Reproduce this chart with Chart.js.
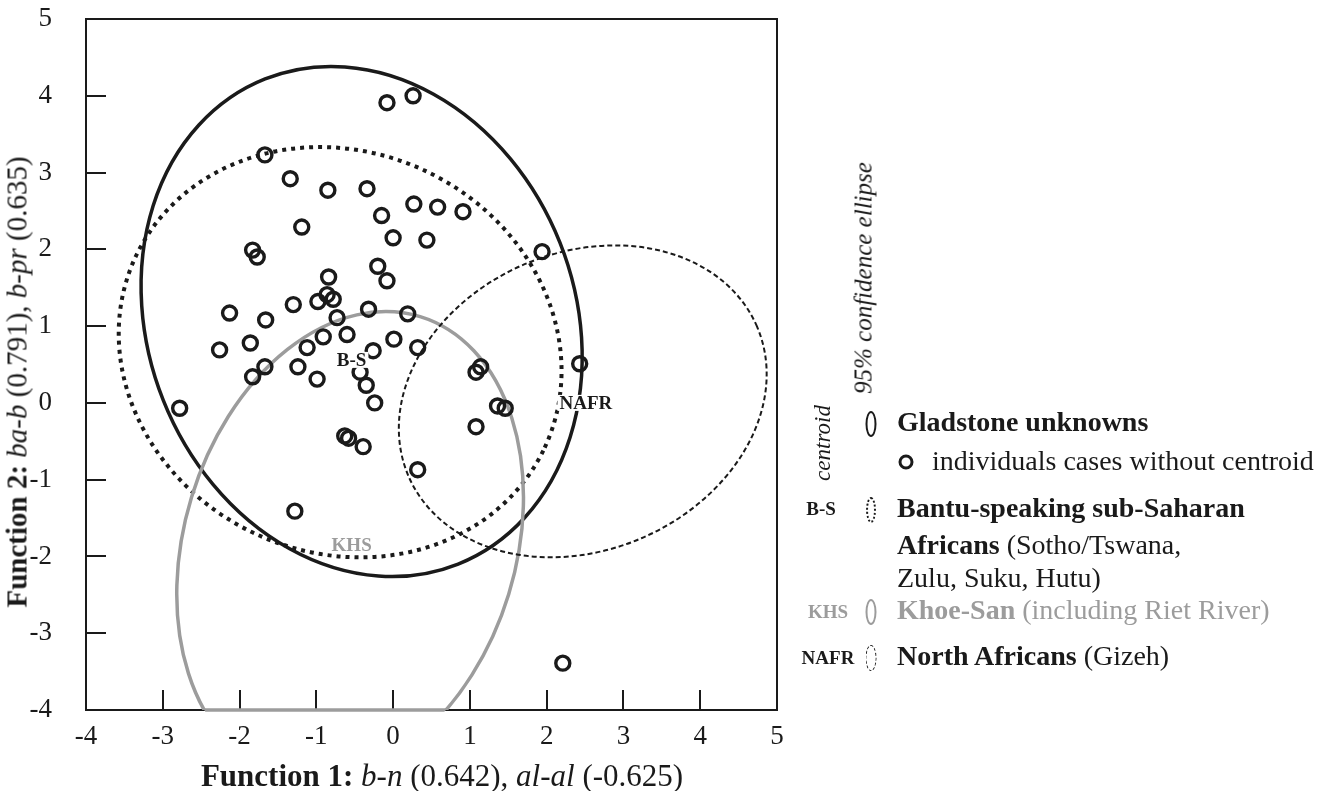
<!DOCTYPE html>
<html>
<head>
<meta charset="utf-8">
<title>Discriminant function plot</title>
<script src="https://cdn.jsdelivr.net/npm/chart.js@4.4.0/dist/chart.umd.min.js"></script>
<style>
  html, body { margin: 0; padding: 0; background: #fff; }
  #wrap { position: relative; width: 1339px; height: 791px; overflow: hidden;
          font-family: "Liberation Serif", "Times New Roman", serif; color: #1a1a1a; }
  canvas { position: absolute; left: 0; top: 0; }
  .t { position: absolute; white-space: nowrap; transform: translateY(-50%); font-size: 28px; line-height: 1; }
  .c { position: absolute; white-space: nowrap; transform: translate(-50%, -50%); line-height: 1; }
  .rot { position: absolute; white-space: nowrap; line-height: 1; transform: translate(-50%, -50%) rotate(-90deg); }
  .gray { color: #9c9c9c; }
  .ico { position: absolute; transform: translate(-50%, -50%); border-radius: 50%; box-sizing: border-box; }
</style>
</head>
<body>
<div id="wrap">
  <canvas id="chart" width="1339" height="791"></canvas>

  <!-- axis titles -->
  <div class="rot" style="left:17px; top:382px; font-size:29px;"><b>Function 2:</b> <i>ba-b</i> (0.791), <i>b-pr</i> (0.635)</div>
  <div class="c" style="left:442px; top:775px; font-size:31px;"><b>Function 1:</b> <i>b-n</i> (0.642), <i>al-al</i> (-0.625)</div>

  <!-- legend -->
  <div class="rot" style="left:863px; top:278px; font-size:25px;"><i>95% confidence ellipse</i></div>
  <div class="rot" style="left:822px; top:443px; font-size:23px;"><i>centroid</i></div>

  <div class="ico" style="left:871px; top:424px; width:11px; height:26px; border:2.5px solid #1a1a1a;"></div>
  <div class="t" style="left:897px; top:422px;"><b>Gladstone unknowns</b></div>

  <div class="ico" style="left:906px; top:462px; width:15px; height:15px; border:3.5px solid #1a1a1a;"></div>
  <div class="t" style="left:932px; top:461px;">individuals cases without centroid</div>

  <div class="c" style="left:821px; top:508px; font-size:19px;"><b>B-S</b></div>
  <div class="ico" style="left:871px; top:510px; width:10px; height:26px; border:2.5px dotted #1a1a1a;"></div>
  <div class="t" style="left:897px; top:508px;"><b>Bantu-speaking sub-Saharan</b></div>
  <div class="t" style="left:897px; top:545px;"><b>Africans</b> (Sotho/Tswana,</div>
  <div class="t" style="left:897px; top:578px;">Zulu, Suku, Hutu)</div>

  <div class="c gray" style="left:828px; top:611px; font-size:19px;"><b>KHS</b></div>
  <div class="ico" style="left:871px; top:612px; width:11px; height:26px; border:2.5px solid #9c9c9c;"></div>
  <div class="t gray" style="left:897px; top:610px;"><b>Khoe-San</b> (including Riet River)</div>

  <div class="c" style="left:828px; top:657px; font-size:19px;"><b>NAFR</b></div>
  <div class="ico" style="left:871px; top:658px; width:11px; height:26px; border:1.5px dashed #1a1a1a;"></div>
  <div class="t" style="left:897px; top:656px;"><b>North Africans</b> (Gizeh)</div>
</div>

<script>
// individual Gladstone cases (function 1, function 2)
const caseX = [0.26, -0.08, -1.67, -1.34, -0.85, -0.34, 0.27, 0.58, 0.91, -0.15,
  -1.19, 0.00, 0.44, 1.94, -1.83, -1.77, -0.20, -0.08, -0.84, -2.13,
  -1.66, -1.30, -0.98, -0.86, -0.78, -0.73, -0.32, 0.19, -0.91, -0.60,
  0.01, 0.32, -1.12, -0.26, -1.86, -2.26, -1.24, -0.99, -0.43, -1.67,
  -1.83, -0.35, -0.24, -2.78, 1.08, 1.14, 1.36, 1.46, 1.08, -0.63,
  -0.58, -0.39, 0.32, -1.28, 2.21, 2.43];
const caseY = [4.00, 3.91, 3.23, 2.92, 2.77, 2.79, 2.59, 2.55, 2.49, 2.44,
  2.29, 2.15, 2.12, 1.97, 1.99, 1.90, 1.78, 1.59, 1.64, 1.17,
  1.08, 1.28, 1.32, 1.41, 1.35, 1.11, 1.22, 1.16, 0.86, 0.89,
  0.83, 0.72, 0.72, 0.68, 0.78, 0.69, 0.47, 0.31, 0.40, 0.47,
  0.34, 0.23, 0.00, -0.07, 0.40, 0.47, -0.04, -0.07, -0.31, -0.43,
  -0.46, -0.57, -0.87, -1.41, -3.39, 0.51];

// 95% confidence ellipses (centre, semi-axes, tilt of the first axis in degrees)
const ellipseNames = ['Gladstone unknowns', 'B-S', 'KHS', 'NAFR'];
const ellipseCX = [-0.41, -0.69, -0.56, 2.47];
const ellipseCY = [1.06, 0.66, -1.86, 0.02];
const ellipseRA = [2.78, 2.94, 2.16, 2.47];
const ellipseRB = [3.40, 2.61, 3.12, 1.94];
const ellipseTilt = [21.7, -25, -17, 23.2];

// group labels inside the plot
const groupNames = ['B-S', 'KHS', 'NAFR'];
const groupX = [-0.54, -0.54, 2.51];
const groupY = [0.56, -1.85, 0.00];

const tickValues = [-4, -3, -2, -1, 0, 1, 2, 3, 4, 5];

const INK = '#1a1a1a';
const GRAY = '#9c9c9c';
const ellipseStyle = [
  { color: INK, width: 3.5, dash: [] },
  { color: INK, width: 4, dash: [4, 5] },
  { color: GRAY, width: 3.5, dash: [] },
  { color: INK, width: 2, dash: [5, 3] }
];
const groupColors = [INK, GRAY, INK];

function pts(xs, ys) {
  return xs.map((x, i) => ({ x: x, y: ys[i] }));
}

// builds the ellipse path in data units, through the chart scales
function ellipsePath(ctx, sx, sy, i) {
  const px = sx.getPixelForValue(ellipseCX[i]);
  const py = sy.getPixelForValue(ellipseCY[i]);
  const kx = sx.getPixelForValue(ellipseCX[i] + 1) - px;
  const ky = sy.getPixelForValue(ellipseCY[i] + 1) - py;
  ctx.save();
  ctx.translate(px, py);
  ctx.scale(kx, ky);
  ctx.rotate(ellipseTilt[i] * Math.PI / 180);
  ctx.beginPath();
  ctx.ellipse(0, 0, ellipseRA[i], ellipseRB[i], 0, 0, Math.PI * 2);
  ctx.restore();
}

const framePlugin = {
  id: 'framePlugin',
  beforeDatasetsDraw(chart) {
    const a = chart.chartArea;
    const ctx = chart.ctx;
    const sx = chart.scales.x;
    const sy = chart.scales.y;
    ctx.save();
    ctx.strokeStyle = INK;
    ctx.lineWidth = 2;
    ctx.strokeRect(a.left, a.top, a.right - a.left, a.bottom - a.top);

    ellipseNames.forEach((name, i) => {
      const st = ellipseStyle[i];
      // ellipse, cut by the frame
      ctx.save();
      ctx.beginPath();
      ctx.rect(a.left, a.top, a.right - a.left, a.bottom - a.top);
      ctx.clip();
      ellipsePath(ctx, sx, sy, i);
      ctx.strokeStyle = st.color;
      ctx.lineWidth = st.width;
      ctx.setLineDash(st.dash);
      ctx.stroke();
      ctx.restore();
      // where it is cut by the bottom frame, the frame takes its colour
      ctx.save();
      ellipsePath(ctx, sx, sy, i);
      ctx.clip();
      ctx.beginPath();
      ctx.moveTo(a.left, sy.getPixelForValue(sy.min));
      ctx.lineTo(a.right, sy.getPixelForValue(sy.min));
      ctx.strokeStyle = st.color;
      ctx.lineWidth = st.width;
      ctx.setLineDash(st.dash);
      ctx.stroke();
      ctx.restore();
    });
    ctx.restore();
  },
  afterDatasetsDraw(chart) {
    const ctx = chart.ctx;
    const sx = chart.scales.x;
    const sy = chart.scales.y;
    ctx.save();
    ctx.font = 'bold 19px "Liberation Serif", serif';
    ctx.textAlign = 'center';
    ctx.textBaseline = 'middle';
    groupNames.forEach((name, i) => {
      const px = sx.getPixelForValue(groupX[i]);
      const py = sy.getPixelForValue(groupY[i]);
      const w = ctx.measureText(name).width;
      ctx.fillStyle = '#fff';
      ctx.fillRect(px - w / 2 - 2, py - 8, w + 4, 16);
      ctx.fillStyle = groupColors[i];
      ctx.fillText(name, px, py + 1);
    });
    ctx.restore();
  }
};

const tickFont = { family: '"Liberation Serif", "Times New Roman", serif', size: 27 };

new Chart(document.getElementById('chart').getContext('2d'), {
  type: 'scatter',
  data: {
    datasets: [
      {
        label: 'individuals cases without centroid',
        data: pts(caseX, caseY),
        pointStyle: 'circle',
        pointRadius: 7,
        pointHoverRadius: 7,
        pointBorderWidth: 3.4,
        pointBorderColor: INK,
        pointBackgroundColor: 'transparent',
        showLine: false,
        clip: false
      }
    ]
  },
  options: {
    responsive: false,
    animation: false,
    devicePixelRatio: 1,
    layout: { padding: { top: 19, right: 562, left: 0, bottom: 0 } },
    plugins: {
      legend: { display: false },
      tooltip: { enabled: false }
    },
    scales: {
      x: {
        type: 'linear',
        min: -4,
        max: 5,
        afterBuildTicks: (scale) => { scale.ticks = tickValues.map(v => ({ value: v })); },
        afterFit: (scale) => { scale.height = 81; },
        grid: { drawOnChartArea: false, drawTicks: true, tickLength: -20, color: INK, lineWidth: 2 },
        border: { display: true, color: INK, width: 2 },
        ticks: { color: INK, font: tickFont, padding: 31, maxRotation: 0 }
      },
      y: {
        type: 'linear',
        min: -4,
        max: 5,
        afterBuildTicks: (scale) => { scale.ticks = tickValues.map(v => ({ value: v })); },
        afterFit: (scale) => {
          scale.width = 86;
          scale.paddingTop = 14;
          scale.paddingBottom = 14;
        },
        grid: { drawOnChartArea: false, drawTicks: true, tickLength: -20, color: INK, lineWidth: 2 },
        border: { display: true, color: INK, width: 2 },
        ticks: { color: INK, font: tickFont, padding: 54 }
      }
    }
  },
  plugins: [framePlugin]
});
</script>
</body>
</html>
